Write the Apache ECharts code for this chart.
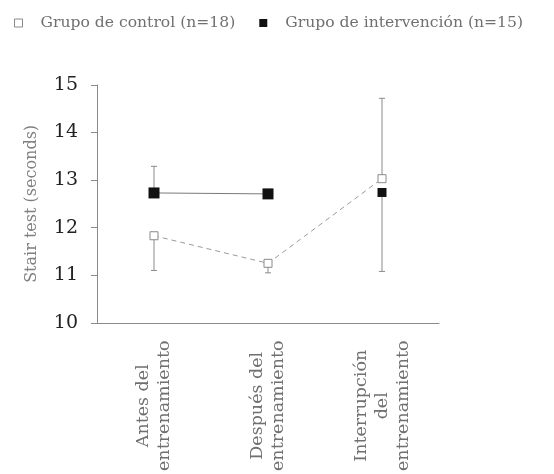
<!DOCTYPE html>
<html>
<head>
<meta charset="utf-8">
<script src="https://cdn.jsdelivr.net/npm/echarts@6/dist/echarts.min.js"></script>
<style>
  html, body { margin: 0; padding: 0; background: #fff; }
  #chart { width: 554px; height: 474px; }
</style>
</head>
<body>
<div id="chart"></div>
<script>
// Stair test times per training phase
var phases = ['Antes del\nentrenamiento', 'Después del\nentrenamiento', 'Interrupción\ndel\nentrenamiento'];
var controlName = 'Grupo de control (n=18)';
var interventionName = 'Grupo de intervención (n=15)';
var controlMean = [11.83, 11.25, 13.03];
// the intervention trace is only joined across the first two phases
var interventionMean = [12.73, 12.71, null];
var interventionLast = [null, null, 12.74];
// error bar extents (low / high) for each phase
var controlLow = [11.10, 11.05, 13.03];
var controlHigh = [11.83, 11.25, 14.72];
var interventionLow = [12.73, 12.71, 11.08];
var interventionHigh = [13.29, 12.71, 12.74];
var yTicks = [10, 11, 12, 13, 14, 15];

var serif = '"DejaVu Serif", "Liberation Serif", serif';

function errorBars(low, high) {
  return {
    type: 'custom',
    silent: true,
    z: 1,
    data: low.map(function (v, i) { return [i, v, high[i]]; }),
    renderItem: function (params, api) {
      var lo = api.coord([api.value(0), api.value(1)]);
      var hi = api.coord([api.value(0), api.value(2)]);
      var cap = 3;
      var style = { stroke: '#8a8a8a', lineWidth: 1 };
      return {
        type: 'group',
        children: [
          { type: 'line', shape: { x1: lo[0], y1: lo[1], x2: hi[0], y2: hi[1] }, style: style },
          { type: 'line', shape: { x1: lo[0] - cap, y1: lo[1], x2: lo[0] + cap, y2: lo[1] }, style: style },
          { type: 'line', shape: { x1: hi[0] - cap, y1: hi[1], x2: hi[0] + cap, y2: hi[1] }, style: style }
        ]
      };
    }
  };
}

var chart = echarts.init(document.getElementById('chart'), null, { renderer: 'canvas' });
chart.setOption({
  animation: false,
  backgroundColor: '#ffffff',
  legend: {
    left: 9,
    top: 10,
    itemWidth: 8,
    itemHeight: 8,
    itemGap: 24,
    textStyle: { fontFamily: serif, fontSize: 15.6, color: '#707070', padding: [0, 0, 0, 13] },
    data: [
      { name: controlName, icon: 'rect', itemStyle: { color: '#ffffff', borderColor: '#8a8a8a', borderWidth: 1 } },
      { name: interventionName, icon: 'rect', itemStyle: { color: '#111111' } }
    ]
  },
  grid: { left: 97, right: 115, top: 85, bottom: 151 },
  xAxis: {
    type: 'category',
    data: phases,
    boundaryGap: true,
    axisLine: { lineStyle: { color: '#8a8a8a', width: 1 } },
    axisTick: { show: false },
    axisLabel: {
      rotate: 90,
      align: 'center',
      verticalAlign: 'middle',
      margin: 83,
      interval: 0,
      lineHeight: 21,
      fontFamily: serif,
      fontSize: 17.5,
      color: '#707070'
    }
  },
  yAxis: {
    type: 'value',
    min: yTicks[0],
    max: yTicks[yTicks.length - 1],
    interval: 1,
    name: 'Stair test (seconds)',
    nameLocation: 'middle',
    nameGap: 57,
    nameTextStyle: { fontFamily: serif, fontSize: 16, color: '#808080' },
    axisLine: { show: true, lineStyle: { color: '#8a8a8a', width: 1 } },
    axisTick: { show: true, inside: false, length: 6, lineStyle: { color: '#8a8a8a' } },
    splitLine: { show: false },
    axisLabel: { margin: 19, fontFamily: serif, fontSize: 19, color: '#222222' }
  },
  series: [
    errorBars(controlLow, controlHigh),
    errorBars(interventionLow, interventionHigh),
    {
      name: controlName,
      type: 'line',
      data: controlMean,
      z: 3,
      symbol: 'rect',
      symbolSize: 8,
      itemStyle: { color: '#ffffff', borderColor: '#8a8a8a', borderWidth: 1 },
      lineStyle: { color: '#9a9a9a', width: 1, type: [5, 4] }
    },
    {
      name: interventionName,
      type: 'line',
      data: interventionMean,
      z: 4,
      symbol: 'rect',
      symbolSize: 11,
      connectNulls: false,
      itemStyle: { color: '#111111' },
      lineStyle: { color: '#7a7a7a', width: 1 }
    },
    {
      name: interventionName,
      type: 'line',
      data: interventionLast,
      z: 4,
      symbol: 'rect',
      symbolSize: 9,
      itemStyle: { color: '#111111' },
      lineStyle: { width: 0 }
    }
  ]
});
</script>
</body>
</html>
